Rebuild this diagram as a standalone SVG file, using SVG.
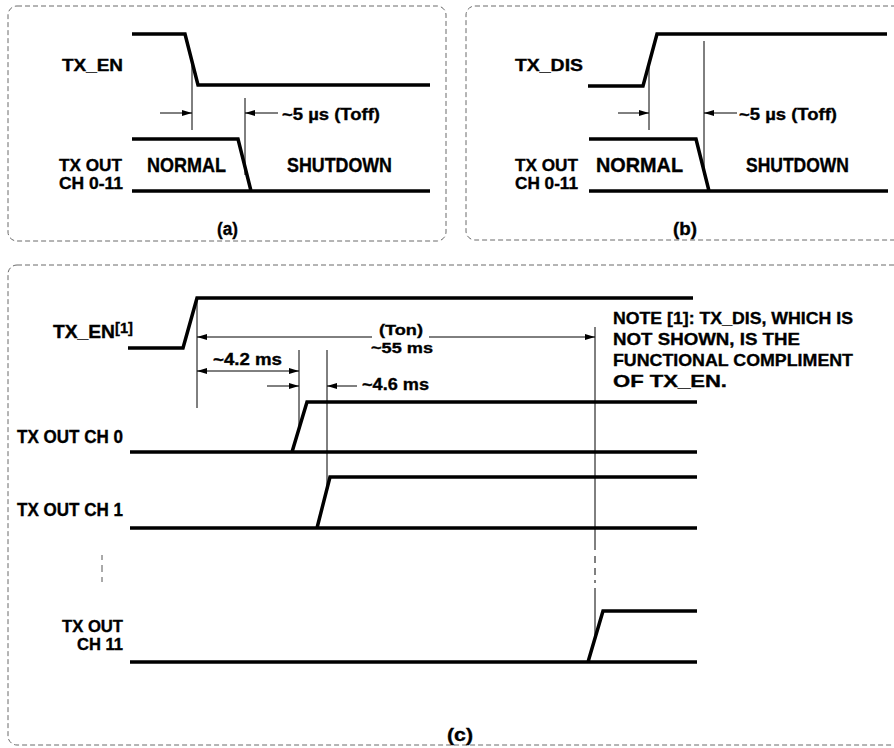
<svg xmlns="http://www.w3.org/2000/svg" width="894" height="748" viewBox="0 0 894 748">
<style>
.frame{fill:none;stroke:#6a6a6a;stroke-width:1;stroke-dasharray:5 3}
.wave{fill:none;stroke:#000;stroke-width:3.5;stroke-linejoin:miter;stroke-linecap:butt}
.thin{fill:none;stroke:#000;stroke-width:1}
.arr{fill:none;stroke:#000;stroke-width:1;marker-end:url(#ah)}
.dbl{fill:none;stroke:#000;stroke-width:1;marker-end:url(#ah);marker-start:url(#ah)}
.dash{fill:none;stroke:#555;stroke-width:1}
text{font-family:"Liberation Sans Narrow","Liberation Sans",Arial,sans-serif;font-weight:bold;fill:#000;stroke:#000;stroke-width:0.35}
</style>
<defs>
<marker id="ah" viewBox="0 0 10 6" refX="10" refY="3" markerWidth="10" markerHeight="6" markerUnits="userSpaceOnUse" orient="auto-start-reverse">
<path d="M0,0 L10,3 L0,6 z" fill="#000"/>
</marker>
</defs>

<g id="panel-a">
<rect class="frame" x="8" y="6" width="438" height="235" rx="9"/>
<path class="wave" d="M132,34 H185 L198,85 H430"/>
<path class="wave" d="M132,139 H238 L251,191 H430 M132,191 H251"/>
<text x="62" y="71" font-size="16" textLength="61" lengthAdjust="spacingAndGlyphs">TX_EN</text>
<text x="59" y="171" font-size="16.5" textLength="63" lengthAdjust="spacingAndGlyphs">TX OUT</text>
<text x="59" y="189" font-size="16.5" textLength="64" lengthAdjust="spacingAndGlyphs">CH 0-11</text>
<text x="147" y="172" font-size="19.5" textLength="79" lengthAdjust="spacingAndGlyphs">NORMAL</text>
<text x="287" y="172" font-size="19.5" textLength="105" lengthAdjust="spacingAndGlyphs">SHUTDOWN</text>
<text x="282" y="120" font-size="17" textLength="98" lengthAdjust="spacingAndGlyphs">~5 µs (Toff)</text>
<text x="217" y="235" font-size="18" textLength="21" lengthAdjust="spacingAndGlyphs">(a)</text>
</g>

<g id="panel-b">
<rect class="frame" x="466" y="6" width="450" height="234" rx="9"/>
<path class="wave" d="M588,86 H643 L657,34 H887"/>
<path class="wave" d="M589,139 H696 L709,191 H888 M589,191 H709"/>
<text x="515" y="71" font-size="17" textLength="68" lengthAdjust="spacingAndGlyphs">TX_DIS</text>
<text x="515" y="171" font-size="16.5" textLength="63" lengthAdjust="spacingAndGlyphs">TX OUT</text>
<text x="515" y="189" font-size="16.5" textLength="63" lengthAdjust="spacingAndGlyphs">CH 0-11</text>
<text x="596" y="172" font-size="19.5" textLength="87" lengthAdjust="spacingAndGlyphs">NORMAL</text>
<text x="746" y="172" font-size="19.5" textLength="103" lengthAdjust="spacingAndGlyphs">SHUTDOWN</text>
<text x="739" y="120" font-size="17" textLength="98" lengthAdjust="spacingAndGlyphs">~5 µs (Toff)</text>
<text x="673" y="235" font-size="18" textLength="24" lengthAdjust="spacingAndGlyphs">(b)</text>
</g>

<g id="panel-c">
<rect class="frame" x="8" y="265" width="910" height="480" rx="9"/>
<path class="wave" d="M128,348 H183 L197,298 H693"/>
<path class="wave" d="M130,452 H697 M292,452 L307,402 H697"/>
<path class="wave" d="M130,528 H697 M317,528 L330,477 H697"/>
<path class="wave" d="M130,662 H697 M588,662 L603,611 H697"/>
<text x="53" y="338" font-size="17.5" textLength="62" lengthAdjust="spacingAndGlyphs">TX_EN</text>
<text x="115" y="333" font-size="15" textLength="18" lengthAdjust="spacingAndGlyphs">[1]</text>
<text x="17" y="443" font-size="17.5" textLength="106" lengthAdjust="spacingAndGlyphs">TX OUT CH 0</text>
<text x="17" y="516" font-size="17.5" textLength="106" lengthAdjust="spacingAndGlyphs">TX OUT CH 1</text>
<text x="62" y="632" font-size="16" textLength="61" lengthAdjust="spacingAndGlyphs">TX OUT</text>
<text x="77" y="650" font-size="16" textLength="46" lengthAdjust="spacingAndGlyphs">CH 11</text>
<text x="379" y="335" font-size="15.5" textLength="44" lengthAdjust="spacingAndGlyphs">(Ton)</text>
<text x="371" y="353" font-size="15.5" textLength="62" lengthAdjust="spacingAndGlyphs">~55 ms</text>
<text x="213" y="365" font-size="16" textLength="69" lengthAdjust="spacingAndGlyphs">~4.2 ms</text>
<text x="362" y="390" font-size="17" textLength="67" lengthAdjust="spacingAndGlyphs">~4.6 ms</text>
<text x="613" y="324" font-size="17" textLength="240" lengthAdjust="spacingAndGlyphs">NOTE [1]: TX_DIS, WHICH IS</text>
<text x="613" y="345" font-size="17" textLength="187" lengthAdjust="spacingAndGlyphs">NOT SHOWN, IS THE</text>
<text x="613" y="366" font-size="17" textLength="240" lengthAdjust="spacingAndGlyphs">FUNCTIONAL COMPLIMENT</text>
<text x="613" y="387" font-size="17" textLength="114" lengthAdjust="spacingAndGlyphs">OF TX_EN.</text>
<text x="447" y="741" font-size="18" textLength="26" lengthAdjust="spacingAndGlyphs">(c)</text>
<path class="dash" d="M102,555 V560 M102,565 V572 M102,577 V582"/>
</g>

<g id="connectors">
<path class="thin" d="M192,61 V130 M245,98 V175"/>
<path class="arr" d="M160,113 H192"/>
<path class="arr" d="M278,113 H245"/>
<path class="thin" d="M649,64 V130 M704,41 V175"/>
<path class="arr" d="M618,113 H649"/>
<path class="arr" d="M737,113 H704"/>
<path class="thin" d="M197,298 V408 M299,350 V430 M327,350 V492"/>
<path class="thin" d="M595,327 V550 M595,556 V563 M595,568 V575 M595,580 V583 M595,588 V636"/>
<path class="arr" d="M372,337 H197"/>
<path class="arr" d="M429,337 H595"/>
<path class="dbl" d="M197,371 H299"/>
<path class="arr" d="M267,386 H299"/>
<path class="arr" d="M357,386 H327"/>
</g>
</svg>
